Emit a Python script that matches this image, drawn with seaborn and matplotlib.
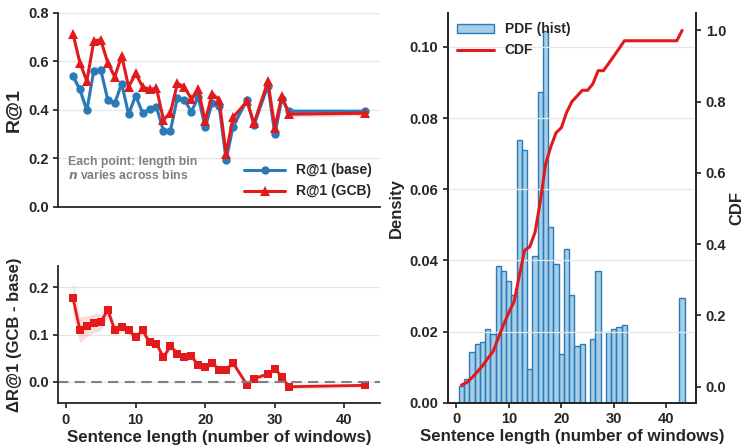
import numpy as np
import matplotlib
matplotlib.use("Agg")
import matplotlib.pyplot as plt
from matplotlib.colors import to_rgba
import seaborn as sns

# Données
lengths = [1, 2, 3, 4, 5, 6, 7, 8, 9, 10, 11, 12, 13, 14, 15, 16, 17, 18, 19, 20,
           21, 22, 23, 24, 26, 27, 29, 30, 31, 32, 43]
r1_base = [0.538, 0.483, 0.397, 0.561, 0.563, 0.441, 0.426, 0.507, 0.380, 0.458,
           0.386, 0.401, 0.410, 0.312, 0.313, 0.448, 0.441, 0.391, 0.452, 0.327,
           0.428, 0.415, 0.193, 0.330, 0.440, 0.336, 0.499, 0.298, 0.444, 0.393, 0.393]
r1_gcb = [0.713, 0.593, 0.517, 0.683, 0.687, 0.593, 0.535, 0.621, 0.494, 0.549,
          0.494, 0.483, 0.488, 0.359, 0.386, 0.508, 0.494, 0.444, 0.483, 0.352,
          0.466, 0.440, 0.218, 0.368, 0.434, 0.343, 0.516, 0.326, 0.456, 0.381, 0.385]
base_err = [0.02, 0.03, 0.025, 0.02, 0.02, 0.015, 0.015, 0.012, 0.012, 0.012, 0.012,
            0.01, 0.01, 0.015, 0.012, 0.01, 0.01, 0.01, 0.01, 0.01, 0.01, 0.01, 0.01,
            0.012, 0.01, 0.01, 0.01, 0.01, 0.01, 0.012, 0.012]
gcb_err = [0.02, 0.015, 0.015, 0.015, 0.018, 0.012, 0.012, 0.012, 0.01, 0.01, 0.01,
           0.01, 0.01, 0.012, 0.01, 0.01, 0.01, 0.01, 0.01, 0.01, 0.01, 0.01, 0.01,
           0.012, 0.01, 0.01, 0.01, 0.01, 0.01, 0.012, 0.01]
delta = [0.178, 0.110, 0.118, 0.124, 0.127, 0.152, 0.110, 0.116, 0.110, 0.094,
         0.109, 0.084, 0.081, 0.052, 0.076, 0.060, 0.053, 0.055, 0.035, 0.032,
         0.041, 0.025, 0.026, 0.040, -0.006, 0.007, 0.017, 0.028, 0.011, -0.010, -0.007]
delta_err = [0.035, 0.028, 0.022, 0.02, 0.018, 0.015, 0.012, 0.01, 0.01, 0.009, 0.009,
             0.008, 0.008, 0.008, 0.008, 0.007, 0.007, 0.007, 0.007, 0.007, 0.007,
             0.007, 0.007, 0.008, 0.007, 0.006, 0.006, 0.006, 0.006, 0.005, 0.004]

hist_bins = [1, 2, 3, 4, 5, 6, 7, 8, 9, 10, 11, 12, 13, 14, 15, 16, 17, 18, 19, 20,
             21, 22, 23, 24, 26, 27, 29, 30, 31, 32, 43]
hist_density = [0.0048, 0.0068, 0.0143, 0.0164, 0.0171, 0.0206, 0.0192, 0.0384,
                0.0371, 0.0343, 0.0302, 0.0737, 0.0710, 0.0096, 0.0411, 0.0874,
                0.1044, 0.0494, 0.0391, 0.0137, 0.0432, 0.0302, 0.0158, 0.0164,
                0.0178, 0.0371, 0.0198, 0.0206, 0.0212, 0.0219, 0.0294]
cdf_x = list(range(1, 44))
cdf_vals = [0.005, 0.012, 0.026, 0.042, 0.059, 0.080, 0.099, 0.137, 0.174, 0.209,
            0.239, 0.312, 0.383, 0.393, 0.434, 0.521, 0.625, 0.674, 0.713, 0.727,
            0.770, 0.800, 0.816, 0.832, 0.832, 0.850, 0.887, 0.887, 0.907, 0.928,
            0.949, 0.971, 0.971, 0.971, 0.971, 0.971, 0.971, 0.971, 0.971, 0.971,
            0.971, 0.971, 1.000]

BLUE = "#2a7ab8"
RED = "#e31a1c"

sns.set_theme(style="ticks")
plt.rcParams["font.family"] = ["Liberation Sans", "DejaVu Sans"]
plt.rcParams["font.weight"] = "bold"
plt.rcParams["axes.labelweight"] = "bold"
plt.rcParams["xtick.labelsize"] = 10.5
plt.rcParams["ytick.labelsize"] = 10.5
plt.rcParams["xtick.major.size"] = 3.5
plt.rcParams["ytick.major.size"] = 3.5
plt.rcParams["axes.linewidth"] = 1.3

fig = plt.figure(figsize=(7.43, 4.45), dpi=100)
W, H = 743, 445


def box(x0, y0, x1, y1):
    return [x0 / W, 1 - y1 / H, (x1 - x0) / W, (y1 - y0) / H]


ax1 = fig.add_axes(box(58.3, 12.5, 380, 206.7))
ax2 = fig.add_axes(box(58.3, 266, 380, 403.3))
ax3 = fig.add_axes(box(447.7, 12.7, 696, 402.7))

x = np.array(lengths)

# --- R@1 par longueur
ax1.fill_between(x, np.array(r1_base) - base_err, np.array(r1_base) + base_err,
                 color=BLUE, alpha=0.15, lw=0)
ax1.fill_between(x, np.array(r1_gcb) - gcb_err, np.array(r1_gcb) + gcb_err,
                 color=RED, alpha=0.15, lw=0)
sns.lineplot(ax=ax1, x=lengths, y=r1_base, color=BLUE, marker="o", markersize=6,
             markeredgewidth=0, lw=2.2, label="R@1 (base)")
sns.lineplot(ax=ax1, x=lengths, y=r1_gcb, color=RED, marker="^", markersize=7,
             markeredgewidth=0, lw=2.2, label="R@1 (GCB)")
ax1.set_ylim(0, 0.8)
ax1.set_xlim(-1.1, 45.1)
ax1.set_yticks([0.0, 0.2, 0.4, 0.6, 0.8])
ax1.set_ylabel("R@1", fontsize=14)
ax1.set_xlabel("")
ax1.tick_params(axis="x", length=0, labelbottom=False)
ax1.yaxis.grid(True, color="#e6e6e6", lw=0.9)
ax1.set_axisbelow(True)
ax1.legend(loc="lower right", frameon=False, fontsize=10, handlelength=2.9,
           borderaxespad=0.2)
ax1.text(0.03, 0.26, "Each point: length bin\n$\\mathbfit{n}$ varies across bins",
         transform=ax1.transAxes, ha="left", va="top", color="#808080",
         fontsize=8.8, fontweight="bold", linespacing=1.1)
sns.despine(ax=ax1)

# --- Delta
ax2.fill_between(x, np.array(delta) - delta_err, np.array(delta) + delta_err,
                 color=RED, alpha=0.15, lw=0)
sns.lineplot(ax=ax2, x=lengths, y=delta, color=RED, marker="s", markersize=5.5,
             markeredgewidth=0, lw=2)
ax2.axhline(0, color="#808080", ls="--", lw=1.5, dashes=(5, 3))
ax2.set_xlim(-1.1, 45.1)
ax2.set_ylim(-0.045, 0.245)
ax2.set_yticks([0.0, 0.1, 0.2])
ax2.set_xticks([0, 10, 20, 30, 40])
ax2.set_ylabel("ΔR@1 (GCB - base)", fontsize=12)
ax2.set_xlabel("Sentence length (number of windows)", fontsize=12.2, labelpad=2)
ax2.yaxis.grid(True, color="#e6e6e6", lw=0.9)
ax2.set_axisbelow(True)
sns.despine(ax=ax2)

# --- Histogramme + CDF
sns.histplot(ax=ax3, x=hist_bins, weights=hist_density, discrete=True,
             stat="count", label="PDF (hist)")
for p in ax3.patches:
    p.set_facecolor(to_rgba("#6baed6", 0.6))
    p.set_edgecolor("#2b7bba")
    p.set_linewidth(1.0)
ax3.set_ylabel("Density", fontsize=12)
ax3.set_xlabel("Sentence length (number of windows)", fontsize=12.2, labelpad=2)
ax3.set_xticks([0, 10, 20, 30, 40])
ax3.set_yticks([0.0, 0.02, 0.04, 0.06, 0.08, 0.10])
ax3.yaxis.grid(True, color="#e6e6e6", lw=0.9)
ax3.set_axisbelow(False)

ax4 = ax3.twinx()
sns.lineplot(ax=ax4, x=cdf_x, y=cdf_vals, color=RED, lw=2.2, label="CDF")
ax4.set_ylabel("CDF", fontsize=12, labelpad=2)
ax4.set_yticks([0.0, 0.2, 0.4, 0.6, 0.8, 1.0])
ax4.grid(False)
ax4.get_legend().remove()
ax3.spines["top"].set_visible(False)
ax4.spines["top"].set_visible(False)

h1, l1 = ax3.get_legend_handles_labels()
h2, l2 = ax4.get_legend_handles_labels()
ax3.legend(h1 + h2, l1 + l2, loc="upper left", frameon=False, fontsize=10,
           handlelength=2.6, borderaxespad=0.3)

fig.savefig("out.png", dpi=100)
